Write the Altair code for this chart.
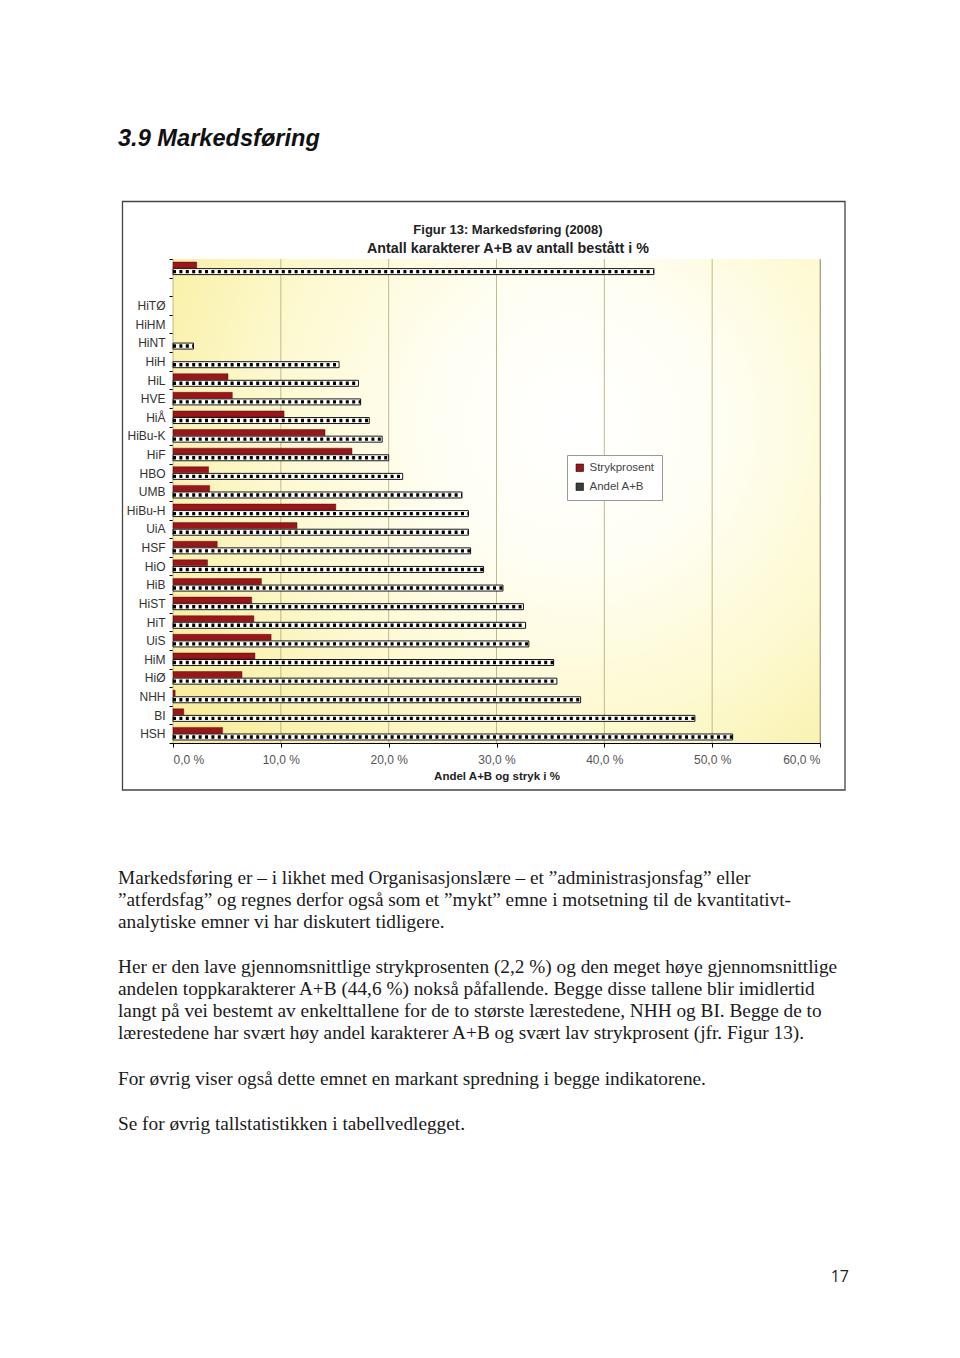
import altair as alt
import pandas as pd

# ---------------- data ----------------
institutions = ["Alle", "(tom)", "HiTØ", "HiHM", "HiNT", "HiH", "HiL", "HVE", "HiÅ", "HiBu-K",
                "HiF", "HBO", "UMB", "HiBu-H", "UiA", "HSF", "HiO", "HiB", "HiST", "HiT",
                "UiS", "HiM", "HiØ", "NHH", "BI", "HSH"]
strykprosent = [2.2, None, None, None, None, None, 5.1, 5.5, 10.3, 14.1,
                16.6, 3.3, 3.4, 15.1, 11.5, 4.1, 3.2, 8.2, 7.3, 7.5,
                9.1, 7.6, 6.4, 0.2, 1.0, 4.6]
andel_ab = [44.6, None, None, None, 1.9, 15.4, 17.2, 17.4, 18.2, 19.4,
            20.0, 21.3, 26.8, 27.4, 27.4, 27.6, 28.8, 30.6, 32.5, 32.7,
            33.0, 35.3, 35.6, 37.8, 48.4, 51.9]
tick_values = [0, 10, 20, 30, 40, 50, 60]
series_names = ["Strykprosent", "Andel A+B"]

page_title = "3.9 Markedsføring"
chart_title = ["Figur 13: Markedsføring (2008)", "Antall karakterer A+B av antall bestått i %"]
x_title = "Andel A+B og stryk i %"
body_lines = [
    ("Markedsføring er – i likhet med Organisasjonslære – et ”administrasjonsfag” eller", 884),
    ("”atferdsfag” og regnes derfor også som et ”mykt” emne i motsetning til de kvantitativt-", 906),
    ("analytiske emner vi har diskutert tidligere.", 928),
    ("Her er den lave gjennomsnittlige strykprosenten (2,2 %) og den meget høye gjennomsnittlige", 973),
    ("andelen toppkarakterer A+B (44,6 %) nokså påfallende. Begge disse tallene blir imidlertid", 995),
    ("langt på vei bestemt av enkelttallene for de to største lærestedene, NHH og BI. Begge de to", 1017),
    ("lærestedene har svært høy andel karakterer A+B og svært lav strykprosent (jfr. Figur 13).", 1039),
    ("For øvrig viser også dette emnet en markant spredning i begge indikatorene.", 1085),
    ("Se for øvrig tallstatistikken i tabellvedlegget.", 1130),
]
page_number = "17"

df = pd.DataFrame({"inst": institutions, "stryk": strykprosent, "ab": andel_ab})
ticks_df = pd.DataFrame({"v": tick_values})

# ---------------- layout constants ----------------
LEFT, TOP = 173, 259
W, H = 647, 484
RED = "#9e1418"

xscale = alt.Scale(domain=[0, 60], nice=False, zero=True)
yscale = alt.Scale(domain=institutions, paddingInner=0, paddingOuter=0)

xaxis = alt.Axis(
    values=tick_values, grid=False, domainColor="#000", domainWidth=1,
    tickColor="#000", tickSize=4, labelPadding=7, labelFontSize=12, labelColor="#555",
    labelFont="Liberation Sans",
    labelExpr="replace(format(datum.value, '.1f'), '.', ',') + ' %'",
    title=x_title, titleFont="Liberation Sans", titleFontSize=11.5, titleFontWeight="bold",
    titleColor="#222", titlePadding=5,
)
yaxis = alt.Axis(
    title=None, domainColor="#000", domainWidth=1, tickColor="#000", tickSize=4,
    tickBand="extent", labelPadding=4, labelFontSize=12, labelColor="#333",
    labelFont="Liberation Sans",
    labelExpr="(datum.value == 'Alle' || datum.value == '(tom)') ? '' : datum.value",
)

one = alt.Data(values=[{}])

# plot background gradient
bg = alt.Chart(one).mark_rect(
    fill={
        "gradient": "radial",
        "x1": 0.62, "y1": 0.38, "r1": 0,
        "x2": 0.62, "y2": 0.38, "r2": 0.72,
        "stops": [
            {"offset": 0, "color": "#ffffff"},
            {"offset": 0.3, "color": "#fffef4"},
            {"offset": 0.65, "color": "#fdf9cf"},
            {"offset": 1, "color": "#f8ee9e"},
        ],
    }
).encode(x=alt.value(0), x2=alt.value(W), y=alt.value(0), y2=alt.value(H))

# outer frame of the figure
frame = alt.Chart(one).mark_rect(fillOpacity=0, stroke="#444", strokeWidth=1.3).encode(
    x=alt.value(122.5 - LEFT), x2=alt.value(845 - LEFT),
    y=alt.value(201.5 - TOP), y2=alt.value(790 - TOP)
)

grid = alt.Chart(ticks_df).mark_rule(color="#b8b27e", strokeWidth=0.9).encode(
    x=alt.X("v:Q", scale=xscale, axis=xaxis)
)

base = alt.Chart(df)

red = base.transform_filter("isValid(datum.stryk)").transform_calculate(
    serie="'Strykprosent'"
).mark_bar(size=6, yOffset=-3.3, stroke="#3a0000", strokeWidth=0.4).encode(
    x=alt.X("stryk:Q", scale=xscale, axis=xaxis),
    y=alt.Y("inst:N", scale=yscale, axis=yaxis, sort=institutions),
    color=alt.Color(
        "serie:N",
        scale=alt.Scale(domain=series_names, range=[RED, "#3c3c3c"]),
        legend=alt.Legend(
            title=None, orient="none", legendX=394, legendY=196,
            fillColor="white", strokeColor="#999", padding=7, rowPadding=6,
            symbolType="square", symbolSize=55, symbolStrokeColor="#000",
            symbolStrokeWidth=0.6, labelFont="Liberation Sans", labelFontSize=11.5,
            labelColor="#444", symbolOpacity=1,
        ),
    ),
)

ab_bar = base.transform_filter("isValid(datum.ab)").mark_bar(
    size=6, yOffset=3.3, fill="white", stroke="#000", strokeWidth=0.9
).encode(
    x=alt.X("ab:Q", scale=xscale, axis=xaxis),
    y=alt.Y("inst:N", scale=yscale, axis=yaxis, sort=institutions),
)

ab_hatch = base.transform_filter("isValid(datum.ab)").transform_calculate(
    zero="0"
).mark_rule(yOffset=3.3, strokeWidth=3.4, strokeDash=[3, 3.4], color="#000").encode(
    x=alt.X("zero:Q", scale=xscale, axis=xaxis),
    x2="ab:Q",
    y=alt.Y("inst:N", scale=yscale, axis=yaxis, sort=institutions),
)

def text_layer(txt, x, y, size, weight="normal", style="normal", font="Liberation Sans",
               align="left", color="#111"):
    return alt.Chart(one).mark_text(
        text=txt, align=align, baseline="alphabetic", fontSize=size, fontWeight=weight,
        fontStyle=style, font=font, color=color
    ).encode(x=alt.value(x), y=alt.value(y))

texts = [
    text_layer(page_title, 118 - LEFT, 146 - TOP, 23.6, weight="bold", style="italic"),
    text_layer(chart_title[0], 508 - LEFT, 234 - TOP, 13, weight="bold", align="center", color="#222"),
    text_layer(chart_title[1], 508 - LEFT, 253 - TOP, 14.3, weight="bold", align="center", color="#222"),
    text_layer(page_number, 849 - LEFT, 1282 - TOP, 16, align="right", font="Open Sans", color="#222"),
]
for line, yb in body_lines:
    texts.append(text_layer(line, 118 - LEFT, yb - TOP, 19.3, font="Liberation Serif", color="#1a1a1a"))

chart = alt.layer(bg, frame, grid, red, ab_bar, ab_hatch, *texts).properties(
    width=W, height=H,
    padding={"left": LEFT, "top": TOP, "right": 960 - LEFT - W, "bottom": 1358 - TOP - H},
    autosize=alt.AutoSizeParams(type="none"),
    background="white",
).configure_view(stroke="#9a9a9a", strokeWidth=1)

chart.save("out.html", embed_options={"renderer": "svg", "actions": False})
